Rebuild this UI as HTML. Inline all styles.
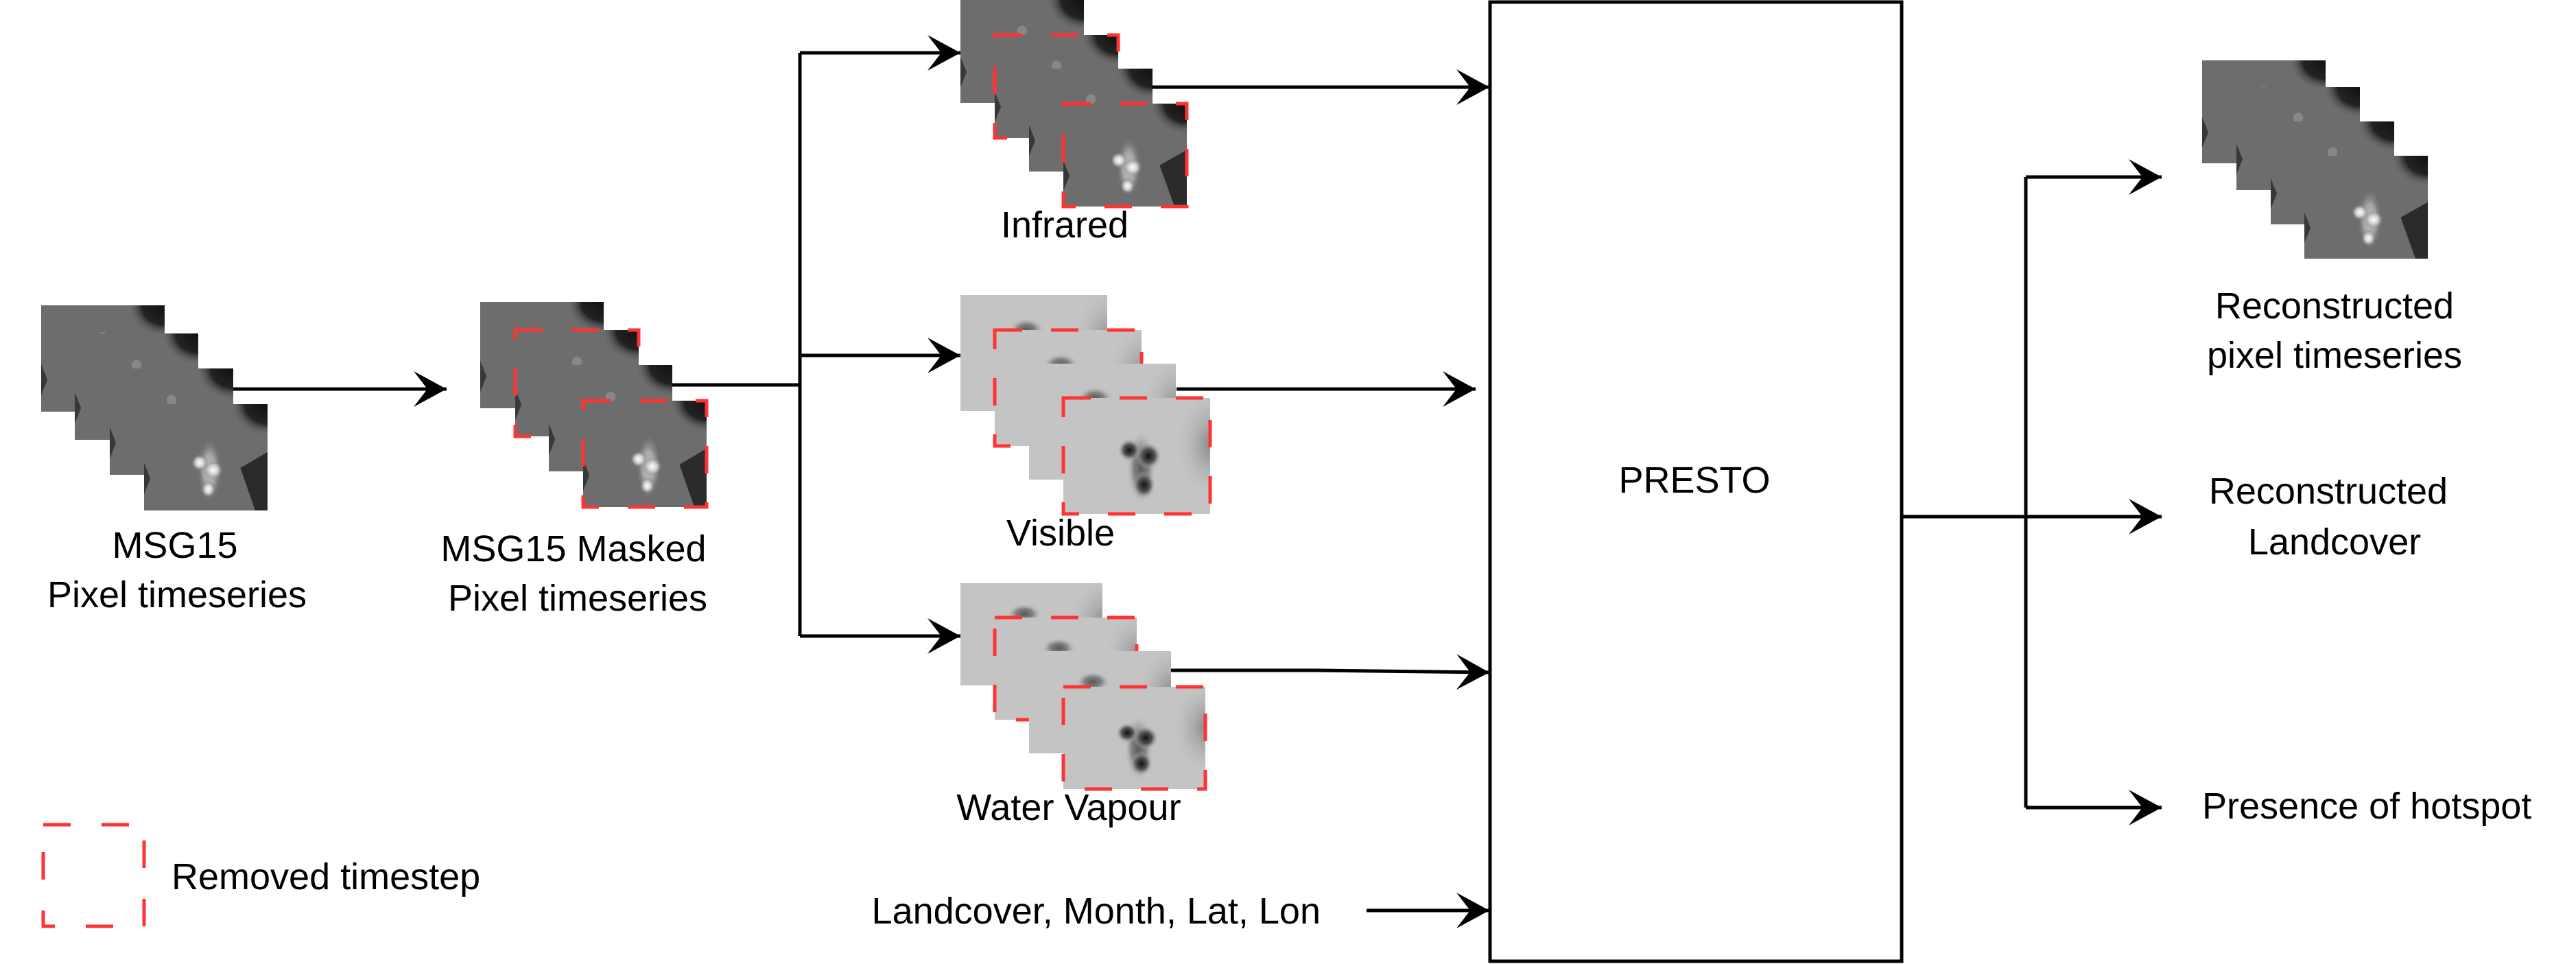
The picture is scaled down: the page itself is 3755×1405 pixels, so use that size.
<!DOCTYPE html>
<html><head><meta charset="utf-8"><style>
html,body{margin:0;padding:0;background:#fff;}
svg{display:block;}
text{font-family:"Liberation Sans",sans-serif;font-size:54px;fill:#000;}
</style></head><body>
<svg id="fig" width="3755" height="1405" viewBox="0 0 3755 1405" xmlns="http://www.w3.org/2000/svg">
<defs>
  <radialGradient id="irCorner" cx="1" cy="0" r="0.55"><stop offset="0" stop-color="#111"/><stop offset="0.6" stop-color="#222"/><stop offset="1" stop-color="#6f6f6f" stop-opacity="0"/></radialGradient>
  <radialGradient id="irBright" cx="0.5" cy="0.5" r="0.5"><stop offset="0" stop-color="#fff"/><stop offset="0.5" stop-color="#ccc"/><stop offset="1" stop-color="#777" stop-opacity="0"/></radialGradient>
  <radialGradient id="visDark" cx="0.5" cy="0.5" r="0.5"><stop offset="0" stop-color="#111"/><stop offset="0.5" stop-color="#555"/><stop offset="1" stop-color="#bbb" stop-opacity="0"/></radialGradient>
  <radialGradient id="visCorner" cx="1" cy="0.4" r="0.5"><stop offset="0" stop-color="#888"/><stop offset="1" stop-color="#c8c8c8" stop-opacity="0"/></radialGradient>
</defs>
<g id="tiles"></g>
<g id="lines" fill="none" stroke="#000" stroke-width="5"></g>
<g id="heads"></g>

<rect x="2172" y="3" width="600" height="1398" fill="none" stroke="#000" stroke-width="5"/>
<text x="2470" y="718" text-anchor="middle">PRESTO</text>

<text x="255" y="813" text-anchor="middle">MSG15</text>
<text x="258" y="885" text-anchor="middle">Pixel timeseries</text>
<text x="836" y="818" text-anchor="middle">MSG15 Masked</text>
<text x="842" y="890" text-anchor="middle">Pixel timeseries</text>
<text x="1552" y="346" text-anchor="middle">Infrared</text>
<text x="1546" y="795" text-anchor="middle">Visible</text>
<text x="1558" y="1195" text-anchor="middle">Water Vapour</text>
<text x="1925" y="1346" text-anchor="end">Landcover, Month, Lat, Lon</text>
<text x="3403" y="464" text-anchor="middle">Reconstructed</text>
<text x="3403" y="536" text-anchor="middle">pixel timeseries</text>
<text x="3394" y="734" text-anchor="middle">Reconstructed</text>
<text x="3403" y="808" text-anchor="middle">Landcover</text>
<text x="3210" y="1193">Presence of hotspot</text>

<rect x="63" y="1202" width="147" height="148" fill="none" stroke="#ff3333" stroke-width="5" stroke-dasharray="40 45"/>
<text x="250" y="1296">Removed timestep</text>
</svg>
<script>
const NS="http://www.w3.org/2000/svg";
const tilesG=document.getElementById('tiles');
const linesG=document.getElementById('lines');
const headsG=document.getElementById('heads');
function mk(tag,attrs,parent){const e=document.createElementNS(NS,tag);for(const k in attrs)e.setAttribute(k,attrs[k]);parent.appendChild(e);return e;}
function tile(x,y,w,h,kind,removed,bright,name){
  const g=mk('g',{},tilesG);
  
  
  if(kind==='ir'){
    mk('rect',{x:x,y:y,width:w,height:h,fill:'#6d6d6d'},g);
    mk('rect',{x:x+w*0.45,y:y,width:w*0.55,height:h*0.55,fill:'url(#irCorner)'},g);
    mk('path',{d:`M${x+w} ${y+h*0.45} L${x+w*0.78} ${y+h*0.6} L${x+w*0.9} ${y+h} L${x+w} ${y+h} Z`,fill:'#1a1a1a',opacity:0.8},g);
    mk('path',{d:`M${x} ${y+h*0.55} L${x+w*0.05} ${y+h*0.7} L${x} ${y+h*0.85} Z`,fill:'#222',opacity:0.7},g);
    if(bright){
      mk('ellipse',{cx:x+w*0.53,cy:y+h*0.62,rx:w*0.1,ry:h*0.3,fill:'url(#irBright)',opacity:0.6},g);
      mk('ellipse',{cx:x+w*0.45,cy:y+h*0.55,rx:w*0.07,ry:h*0.08,fill:'url(#irBright)'},g);
      mk('ellipse',{cx:x+w*0.56,cy:y+h*0.62,rx:w*0.08,ry:h*0.09,fill:'url(#irBright)'},g);
      mk('ellipse',{cx:x+w*0.52,cy:y+h*0.8,rx:w*0.06,ry:h*0.08,fill:'url(#irBright)'},g);
    } else {
      mk('ellipse',{cx:x+w*0.5,cy:y+h*0.3,rx:w*0.04,ry:h*0.05,fill:'#999',opacity:0.6},g);
    }
  } else {
    mk('rect',{x:x,y:y,width:w,height:h,fill:'#c4c4c4'},g);
    mk('rect',{x:x+w*0.5,y:y,width:w*0.5,height:h,fill:'url(#visCorner)'},g);
    if(bright){
      mk('ellipse',{cx:x+w*0.53,cy:y+h*0.6,rx:w*0.1,ry:h*0.32,fill:'url(#visDark)',opacity:0.6},g);
      mk('ellipse',{cx:x+w*0.45,cy:y+h*0.45,rx:w*0.08,ry:h*0.1,fill:'url(#visDark)'},g);
      mk('ellipse',{cx:x+w*0.58,cy:y+h*0.5,rx:w*0.09,ry:h*0.12,fill:'url(#visDark)'},g);
      mk('ellipse',{cx:x+w*0.55,cy:y+h*0.75,rx:w*0.08,ry:h*0.12,fill:'url(#visDark)'},g);
    } else {
      mk('ellipse',{cx:x+w*0.45,cy:y+h*0.3,rx:w*0.12,ry:h*0.1,fill:'url(#visDark)',opacity:0.6},g);
    }
  }
  if(removed){
    mk('rect',{x:x,y:y,width:w,height:h,fill:'none',stroke:'#ff3333','stroke-width':5,'stroke-dasharray':'40 42'},g);
  }
}
function stack(xs,ys,w,h,kind,rem,name){
  for(let i=0;i<4;i++) tile(xs[i],ys[i],w,h,kind,rem[i],i===3,name+'-tile-'+(i+1));
}
stack([60,109,160,210],[445,486,537,589],180,155,'ir',[0,0,0,0],'msg15-stack');
stack([700,751,800,850],[440,481,532,584],180,155,'ir',[0,1,0,1],'masked-stack');
stack([1400,1450,1500,1550],[0,51,100,151],180,150,'ir',[0,1,0,1],'infrared-stack');
stack([1400,1450,1500,1550],[430,481,530,580],214,169,'vis',[0,1,0,1],'visible-stack');
stack([1400,1450,1500,1550],[850,900,949,1001],207,149,'vis',[0,1,0,1],'water-vapour-stack');
stack([3210,3260,3310,3359],[88,127,177,227],180,150,'ir',[0,0,0,0],'reconstructed-stack');

function line(pts,name,arrow){
  const p=mk('polyline',{points:pts.map(q=>q.join(',')).join(' ')},linesG);
  
  
  if(arrow){
    const a=pts[pts.length-1], b=pts[pts.length-2];
    const ang=Math.atan2(a[1]-b[1],a[0]-b[0]);
    const c=Math.cos(ang), s=Math.sin(ang);
    const L=48, W=26, I=20;
    const pt=(u,v)=>[a[0]+u*c-v*s, a[1]+u*s+v*c];
    const q=[pt(0,0),pt(-L,-W),pt(-L+I,0),pt(-L,W)];
    const h=mk('path',{d:'M'+q.map(z=>z.join(' ')).join(' L')+' Z',fill:'#000'},headsG);
    
    
  }
}
line([[340,567],[651,567]],'arrow-msg15-to-masked',true);
line([[980,561],[1166,561]],'masked-out-line',false);
line([[1166,77],[1166,927]],'branch-vertical',false);
line([[1166,77],[1400,77]],'arrow-to-infrared',true);
line([[1166,518],[1400,518]],'arrow-to-visible',true);
line([[1166,927],[1400,927]],'arrow-to-water-vapour',true);
line([[1679,127],[2171,127]],'arrow-infrared-to-presto',true);
line([[1715,567],[2151,567]],'arrow-visible-to-presto',true);
line([[1707,977],[1920,977],[2171,980]],'arrow-water-vapour-to-presto',true);
line([[1992,1327],[2171,1327]],'arrow-static-to-presto',true);
line([[2772,753],[3151,753]],'arrow-to-landcover',true);
line([[2953,258],[2953,1177]],'output-vertical',false);
line([[2953,258],[3151,258]],'arrow-to-reconstructed-pixels',true);
line([[2953,1177],[3151,1177]],'arrow-to-hotspot',true);
</script>
</body></html>
